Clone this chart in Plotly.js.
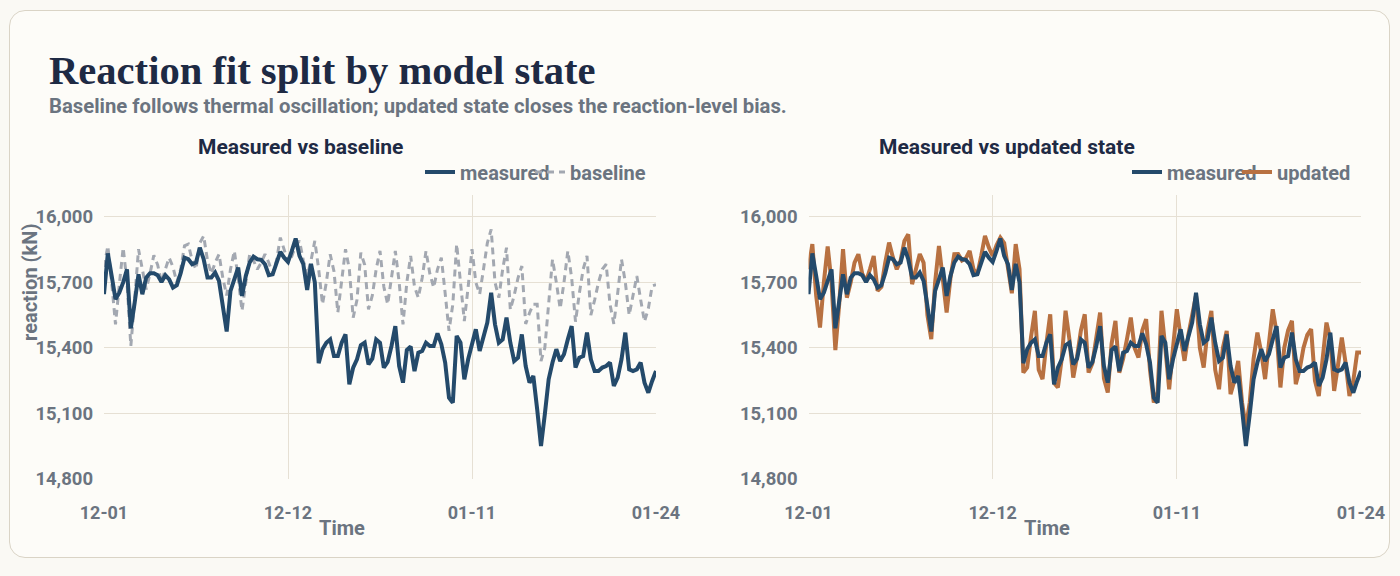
<!DOCTYPE html>
<html>
<head>
<meta charset="utf-8">
<script src="https://cdn.plot.ly/plotly-3.0.1.min.js"></script>
<style>
  html, body { margin: 0; padding: 0; background: #FAF9F4; }
  #wrap { position: relative; width: 1400px; height: 576px; }
  #card {
    position: absolute; left: 9px; top: 10px; width: 1381px; height: 548px;
    box-sizing: border-box; border: 1.5px solid #DAD4C6; border-radius: 16px;
    background: #FDFCF8;
  }
  #chart { position: absolute; left: 0; top: 0; width: 1400px; height: 576px; }
</style>
</head>
<body>
<div id="wrap"><div id="card"></div><div id="chart"></div></div>
<script>
// Support reaction (kN), four readings per day over the monitored days
const measured = [
  15646, 15833, 15730, 15623, 15653, 15700, 15760, 15490, 15607, 15737,
  15646, 15722, 15742, 15742, 15733, 15702, 15733, 15714, 15676, 15687,
  15742, 15813, 15806, 15783, 15791, 15859, 15806, 15722, 15722, 15745,
  15707, 15592, 15475, 15661, 15714, 15768, 15638, 15730, 15791, 15818,
  15806, 15803, 15783, 15733, 15737, 15791, 15840, 15813, 15794, 15844,
  15901, 15821, 15783, 15665, 15785, 15700, 15330, 15394, 15424, 15439,
  15363, 15363, 15424, 15462, 15233, 15310, 15348, 15412, 15424, 15325,
  15351, 15439, 15424, 15310, 15336, 15409, 15500, 15317, 15241, 15391,
  15406, 15294, 15378, 15386, 15424, 15409, 15409, 15467, 15417, 15333,
  15172, 15149, 15455, 15424, 15256, 15348, 15412, 15485, 15386, 15447,
  15516, 15653, 15508, 15424, 15439, 15539, 15424, 15340, 15355, 15462,
  15317, 15241, 15271, 15119, 14951, 15096, 15256, 15333, 15394, 15340,
  15371, 15439, 15500, 15310, 15355, 15363, 15470, 15348, 15294, 15294,
  15310, 15317, 15333, 15226, 15264, 15348, 15470, 15302, 15294, 15302,
  15333, 15241, 15195, 15249, 15294
];

// Baseline model: follows the thermal oscillation, keeps the old reaction level
const baseline = [
  15770, 15867, 15700, 15508, 15690, 15859, 15700, 15409, 15620, 15852,
  15760, 15668, 15740, 15824, 15780, 15700, 15760, 15813, 15770, 15700,
  15760, 15867, 15875, 15800, 15760, 15880, 15913, 15800, 15740, 15790,
  15829, 15720, 15640, 15760, 15844, 15720, 15570, 15700, 15829, 15800,
  15760, 15790, 15829, 15790, 15740, 15800, 15905, 15850, 15790, 15820,
  15870, 15890, 15800, 15730, 15800, 15890, 15760, 15600, 15700, 15829,
  15750, 15562, 15700, 15852, 15760, 15539, 15620, 15836, 15780, 15577,
  15640, 15760, 15844, 15680, 15600, 15720, 15844, 15700, 15508, 15700,
  15821, 15680, 15630, 15720, 15844, 15740, 15676, 15760, 15813, 15650,
  15478, 15600, 15875, 15700, 15523, 15680, 15852, 15700, 15646, 15760,
  15880, 15943, 15700, 15630, 15760, 15859, 15575, 15640, 15720, 15775,
  15510, 15560, 15600, 15600, 15340, 15400, 15600, 15806, 15700, 15580,
  15700, 15844, 15720, 15520, 15650, 15760, 15821, 15550, 15620, 15700,
  15760, 15783, 15600, 15510, 15650, 15806, 15700, 15550, 15640, 15729,
  15620, 15520, 15580, 15684, 15690
];

// Updated model state: same oscillation, reaction level corrected
const updated = [
  15760, 15875, 15640, 15493, 15700, 15865, 15700, 15390, 15600, 15852,
  15630, 15700, 15790, 15829, 15740, 15705, 15760, 15821, 15661, 15680,
  15790, 15882, 15814, 15760, 15800, 15890, 15920, 15692, 15760, 15830,
  15790, 15550, 15440, 15700, 15867, 15700, 15562, 15720, 15829, 15830,
  15800, 15810, 15844, 15760, 15737, 15820, 15913, 15860, 15821, 15870,
  15905, 15880, 15760, 15650, 15875, 15760, 15287, 15310, 15450, 15570,
  15300, 15257, 15420, 15554, 15240, 15219, 15350, 15570, 15440, 15264,
  15360, 15480, 15554, 15287, 15330, 15460, 15562, 15260, 15196, 15420,
  15524, 15287, 15350, 15440, 15539, 15400, 15356, 15480, 15532, 15300,
  15150, 15200, 15570, 15400, 15211, 15400, 15577, 15450, 15341, 15460,
  15560, 15640, 15400, 15310, 15480, 15570, 15300, 15211, 15400, 15478,
  15188, 15250, 15341, 15150, 15035, 15150, 15350, 15470, 15380, 15257,
  15420, 15577, 15470, 15219, 15400, 15480, 15524, 15234, 15300, 15400,
  15460, 15486, 15250, 15180, 15350, 15516, 15440, 15203, 15320, 15448,
  15330, 15180, 15250, 15379, 15379
];

const timeTickIndex = [0, 48, 96, 144];
const timeTickLabels = ['12-01', '12-12', '01-11', '01-24'];
const reactionTicks = [14800, 15100, 15400, 15700, 16000];

const step = measured.map((_, i) => i);

const W = 1400, H = 576;
const fx = px => px / W;
const fy = py => 1 - py / H;

const NAVY = '#244A6B';
const GREY = '#A3A8B1';
const RUST = '#B87141';
const INK = '#1E2A44';
const MUTED = '#6B7480';
const GRID = '#E6E0D4';
const SANS = 'Roboto, "Noto Sans", sans-serif';

// The first legend entry is kept narrow so both entries sit close together
const traces = [
  { x: step, y: baseline, name: 'baseline', mode: 'lines', xaxis: 'x', yaxis: 'y', legend: 'legend',
    legendwidth: 100, line: { color: GREY, width: 3, dash: '7px,5px' } },
  { x: step, y: measured, name: 'measured', mode: 'lines', xaxis: 'x', yaxis: 'y', legend: 'legend',
    legendwidth: 65, line: { color: NAVY, width: 4 } },
  { x: step, y: updated, name: 'updated', mode: 'lines', xaxis: 'x2', yaxis: 'y2', legend: 'legend2',
    legendwidth: 100, line: { color: RUST, width: 4 } },
  { x: step, y: measured, name: 'measured', mode: 'lines', xaxis: 'x2', yaxis: 'y2', legend: 'legend2',
    legendwidth: 65, line: { color: NAVY, width: 4 } }
];

const xAxisBase = {
  range: [0, measured.length - 1],
  tickmode: 'array', tickvals: timeTickIndex, ticktext: timeTickLabels,
  showgrid: true, gridcolor: GRID, gridwidth: 1, zeroline: false, showline: false,
  ticks: '', ticklabelstandoff: 21,
  tickfont: { family: SANS, size: 18, color: MUTED, weight: 700 },
  fixedrange: true
};
const yAxisBase = {
  range: [14800, 16100],
  tickmode: 'array', tickvals: reactionTicks, tickformat: ',',
  showgrid: true, gridcolor: GRID, gridwidth: 1, zeroline: false, showline: false,
  ticks: '', ticklabelstandoff: 10,
  tickfont: { family: SANS, size: 18.5, color: MUTED, weight: 700 },
  domain: [fy(479), fy(195)],
  fixedrange: true
};

const legendBase = {
  orientation: 'h', traceorder: 'reversed',
  yref: 'paper', y: fy(172), yanchor: 'middle', xanchor: 'left',
  bgcolor: 'rgba(0,0,0,0)',
  font: { family: SANS, size: 20, color: MUTED, weight: 700 }
};

const note = (text, x, y, size, color, extra) => Object.assign({
  text, xref: 'paper', yref: 'paper', x: fx(x), y: fy(y), showarrow: false,
  xanchor: 'center', yanchor: 'middle',
  font: { family: SANS, size, color, weight: 700 }
}, extra || {});

const layout = {
  width: W, height: H,
  margin: { l: 0, r: 0, t: 0, b: 0 },
  paper_bgcolor: 'rgba(0,0,0,0)', plot_bgcolor: 'rgba(0,0,0,0)',
  showlegend: true,
  xaxis: Object.assign({}, xAxisBase, { domain: [fx(104), fx(656)], anchor: 'y' }),
  yaxis: Object.assign({}, yAxisBase, { anchor: 'x' }),
  xaxis2: Object.assign({}, xAxisBase, { domain: [fx(808.5), fx(1361)], anchor: 'y2' }),
  yaxis2: Object.assign({}, yAxisBase, { anchor: 'x2' }),
  legend: Object.assign({}, legendBase, { x: fx(420) }),
  legend2: Object.assign({}, legendBase, { x: fx(1127) }),
  annotations: [
    note('Reaction fit split by model state', 47, 70, 40.6, INK,
      { xanchor: 'left', font: { family: '"Liberation Serif", "DejaVu Serif", serif', size: 40.6, color: INK, weight: 700 } }),
    note('Baseline follows thermal oscillation; updated state closes the reaction-level bias.', 47, 106, 20.3, MUTED,
      { xanchor: 'left' }),
    note('Measured vs baseline', 300, 147, 21, INK),
    note('Measured vs updated state', 1007, 147, 21, INK),
    note('reaction (kN)', 30, 283, 20, MUTED, { textangle: -90 }),
    note('Time', 342, 528, 20, MUTED),
    note('Time', 1047, 528, 20, MUTED)
  ]
};

Plotly.newPlot('chart', traces, layout, { displayModeBar: false, staticPlot: true });
</script>
</body>
</html>
